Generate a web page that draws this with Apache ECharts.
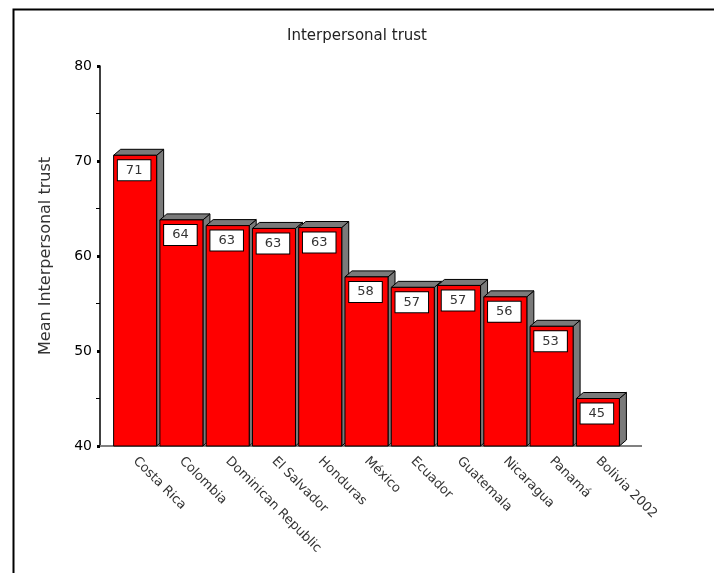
<!DOCTYPE html>
<html>
<head>
<meta charset="utf-8">
<script src="https://cdn.jsdelivr.net/npm/echarts@6/dist/echarts.min.js"></script>
<style>
  html, body { margin: 0; padding: 0; background: #fff; }
  #main { width: 714px; height: 573px; }
</style>
</head>
<body>
<div id="main"></div>
<script>
// chart data
const categories = ['Costa Rica', 'Colombia', 'Dominican Republic', 'El Salvador', 'Honduras',
  'México', 'Ecuador', 'Guatemala', 'Nicaragua', 'Panamá', 'Bolivia 2002'];
const meanTrust = [70.6, 63.8, 63.2, 62.9, 63.0, 57.8, 56.7, 56.9, 55.7, 52.6, 45.0];
const yTicks = [40, 50, 60, 70, 80];

const FONT = 'DejaVu Sans';
const yMin = yTicks[0];

function renderItem(params, api) {
  const idx = api.value(0);
  const v = api.value(1);
  const top = api.coord([idx, v]);
  const base = api.coord([idx, yMin]);
  const band = api.size([1, 0])[0];
  const w = band * 0.93;
  const x0 = top[0] - w / 2, x1 = top[0] + w / 2;
  const dx = 7, dy = 6;
  const children = [];

  // floor line (only once)
  if (params.dataIndex === 0) {
    const cs = params.coordSys;
    children.push({
      type: 'line',
      shape: { x1: cs.x - 12, y1: base[1], x2: cs.x + cs.width + 21, y2: base[1] },
      style: { stroke: '#808080', lineWidth: 2 }
    });
  }
  children.push({
    type: 'polygon',
    shape: { points: [[x1, top[1]], [x1 + dx, top[1] - dy], [x1 + dx, base[1] - dy], [x1, base[1]]] },
    style: { fill: '#7a7a7a', stroke: '#000', lineWidth: 1 }
  });
  children.push({
    type: 'polygon',
    shape: { points: [[x0, top[1]], [x0 + dx, top[1] - dy], [x1 + dx, top[1] - dy], [x1, top[1]]] },
    style: { fill: '#7a7a7a', stroke: '#000', lineWidth: 1 }
  });
  children.push({
    type: 'rect',
    shape: { x: x0, y: top[1], width: w, height: base[1] - top[1] },
    style: { fill: '#ff0000', stroke: '#000', lineWidth: 1 }
  });
  children.push({
    type: 'text',
    style: {
      text: String(Math.round(v)),
      x: top[0] - 1, y: top[1] + 5,
      align: 'center', verticalAlign: 'top',
      font: '13px ' + FONT,
      fill: '#333',
      backgroundColor: '#fff',
      borderColor: '#000', borderWidth: 1,
      padding: [3, 8], lineHeight: 14
    }
  });
  return { type: 'group', children: children };
}

const chart = echarts.init(document.getElementById('main'));
chart.setOption({
  animation: false,
  backgroundColor: '#fff',
  title: {
    text: 'Interpersonal trust',
    left: 'center', top: 24,
    textStyle: { fontFamily: FONT, fontSize: 15, fontWeight: 'normal', color: '#222' }
  },
  graphic: [{
    type: 'rect', left: 11, top: 7, silent: true,
    shape: { width: 720, height: 580 },
    style: { fill: 'none', stroke: '#000', lineWidth: 2 }
  }],
  grid: { left: 112, right: 93, top: 66, bottom: 127 },
  xAxis: {
    type: 'category',
    data: categories,
    axisLine: { show: false },
    axisTick: { alignWithLabel: true, length: 4, lineStyle: { color: '#000', width: 2 } },
    axisLabel: { rotate: -45, interval: 0, margin: 13, fontFamily: FONT, fontSize: 13, color: '#333' }
  },
  yAxis: {
    type: 'value',
    min: yTicks[0], max: yTicks[yTicks.length - 1], interval: 10,
    offset: 12,
    name: 'Mean Interpersonal trust',
    nameLocation: 'middle', nameGap: 46, nameRotate: 90,
    nameTextStyle: { fontFamily: FONT, fontSize: 16, color: '#333' },
    axisLine: { show: true, lineStyle: { color: '#000', width: 1.5 } },
    axisTick: { show: true, length: 3, lineStyle: { color: '#000', width: 3 } },
    minorTick: { show: true, splitNumber: 2, length: 4, lineStyle: { color: '#000', width: 1 } },
    splitLine: { show: false },
    axisLabel: { margin: 8, fontFamily: FONT, fontSize: 14, color: '#000' }
  },
  series: [{
    type: 'custom',
    renderItem: renderItem,
    data: meanTrust.map((v, i) => [i, v]),
    encode: { x: 0, y: 1 },
    clip: false
  }]
});
</script>
</body>
</html>
